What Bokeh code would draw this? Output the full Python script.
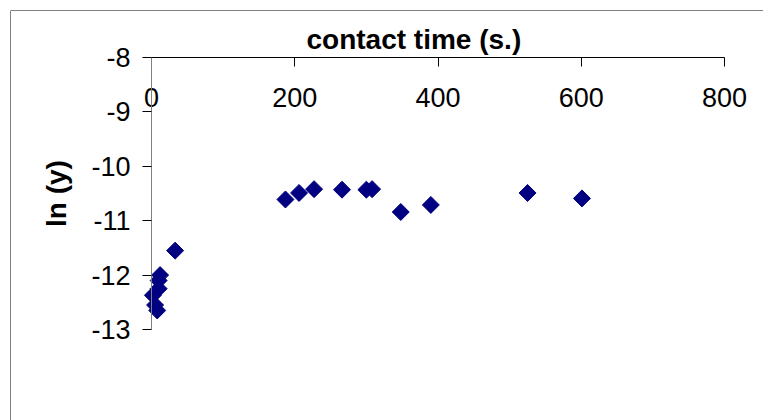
from bokeh.plotting import figure
from bokeh.models import Range1d, CustomJSTickFormatter, Span, Label
from bokeh.embed import file_html
from bokeh.resources import INLINE
import numpy as np

time_s = [2, 5, 8, 10, 10, 12, 33, 187, 206, 227, 266, 300, 308, 348, 390, 525, 601]
ln_y = [-12.37, -12.55, -12.65, -12.25, -12.10, -12.00, -11.55, -10.61, -10.49,
        -10.42, -10.43, -10.43, -10.42, -10.84, -10.71, -10.49, -10.59]
x_ticks = [0, 200, 400, 600, 800]
y_ticks = [-13, -12, -11, -10, -9, -8]
x_title = "contact time (s.)"
y_title = "ln (y)"

FONT = "Liberation Sans"

# layout geometry (pixels of the 763x420 page)
W, H = 763, 420
box_left, box_top = 10, 10
ax_left, ax_right = 151, 724      # x = 0 .. 800
ax_top, ax_bottom = 57, 329       # y = -8 .. -13
xs = (ax_right - ax_left) / (x_ticks[-1] - x_ticks[0])
ys = (ax_bottom - ax_top) / (y_ticks[-1] - y_ticks[0])
x_start = x_ticks[0] - (ax_left - box_left) / xs
x_end = x_ticks[-1] + (W - ax_right) / xs
y_end = y_ticks[-1] + (ax_top - box_top) / ys
y_start = y_ticks[0] - (H - ax_bottom) / ys

p = figure(width=W, height=H, output_backend="svg", toolbar_location=None,
           x_range=Range1d(x_start, x_end), y_range=Range1d(y_start, y_end),
           x_axis_location="above", y_axis_location="left",
           min_border_left=box_left, min_border_top=box_top,
           min_border_right=0, min_border_bottom=0)
p.outline_line_color = None
p.grid.visible = False
p.background_fill_color = "white"
p.border_fill_color = "white"

# chart-area border (top and left edges; the others fall outside the page)
p.add_layout(Span(location=x_start, dimension="height", line_color="black", line_width=1))
p.add_layout(Span(location=y_end, dimension="width", line_color="black", line_width=1))

xa = p.xaxis[0]
xa.fixed_location = y_ticks[-1]
xa.bounds = (x_ticks[0], x_ticks[-1])
xa.ticker = x_ticks
xa.formatter = CustomJSTickFormatter(code="return tick.toString();")
xa.axis_line_color = "black"
xa.major_tick_line_color = "black"
xa.major_tick_in = 9
xa.major_tick_out = 0
xa.minor_tick_line_color = None
xa.major_label_standoff = -49
xa.major_label_text_font = FONT
xa.major_label_text_font_size = "27px"
xa.major_label_text_color = "black"

ya = p.yaxis[0]
ya.fixed_location = x_ticks[0]
ya.bounds = (y_ticks[0], y_ticks[-1])
ya.ticker = y_ticks
ya.formatter = CustomJSTickFormatter(code="return tick.toString();")
ya.axis_line_color = "#808080"
ya.major_tick_line_color = "black"
ya.major_tick_in = 0
ya.major_tick_out = 9
ya.minor_tick_line_color = None
ya.major_label_standoff = 12
ya.major_label_text_font = FONT
ya.major_label_text_font_size = "27px"
ya.major_label_text_color = "black"
ya.axis_label = y_title
ya.axis_label_text_font = FONT
ya.axis_label_text_font_size = "28px"
ya.axis_label_text_font_style = "bold"
ya.axis_label_text_color = "black"
ya.axis_label_standoff = 16

p.add_layout(Label(x=155 / xs, y=y_ticks[-1] + 18 / ys, text=x_title,
                   text_font=FONT, text_font_size="28px", text_font_style="bold",
                   text_color="black", text_align="left", text_baseline="alphabetic"))

p.scatter(time_s, ln_y, marker="square", size=12, angle=np.pi / 4,
          fill_color="#000080", line_color="#000080")

open("out.html", "w").write(file_html(p, INLINE))
